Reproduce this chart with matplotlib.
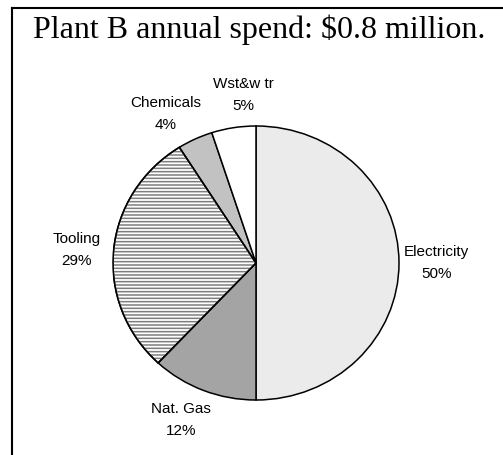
import numpy as np
import matplotlib
matplotlib.use("Agg")
import matplotlib.pyplot as plt
from matplotlib.lines import Line2D
from matplotlib.patches import Wedge

categories = ["Electricity", "Nat. Gas", "Tooling", "Chemicals", "Wst&w tr"]
shares = [50, 12, 29, 4, 5]
fills = ["#ebebeb", "#a4a4a4", "white", "#c2c2c2", "white"]
hatches = [None, None, "-----", None, None]
title = "Plant B annual spend: $0.8 million."

# small nudges so the labels sit where the original put them
label_shift = [0, -3, 1, 5, -5]
label_dist = [1.26, 1.26, 1.26, 1.26, 1.23]

plt.rcParams["hatch.linewidth"] = 1.1

W, H = 503, 455
fig = plt.figure(figsize=(W / 100, H / 100), dpi=100)

# pie is a bit wider than tall in the original
cx, cy, rx, ry = 256, 263, 143, 137
ax = fig.add_axes([(cx - rx) / W, (H - cy - ry) / H, 2 * rx / W, 2 * ry / H])

wedges, _ = ax.pie(shares, startangle=90, counterclock=False, colors=fills,
                   wedgeprops=dict(edgecolor="black", linewidth=1.1, zorder=2))
# grey stripes drawn as a separate wedge under the black outline
for w, h in zip(wedges, hatches):
    if h:
        stripes = Wedge(w.center, w.r, w.theta1, w.theta2, facecolor="none",
                        edgecolor="#7e7e7e", hatch=h, linewidth=0, zorder=2.5)
        ax.add_patch(stripes)
        outline = Wedge(w.center, w.r, w.theta1, w.theta2, facecolor="none",
                        edgecolor="black", linewidth=1.1, zorder=3)
        ax.add_patch(outline)
ax.set_aspect("auto")
ax.set_xlim(-1, 1)
ax.set_ylim(-1, 1)
ax.axis("off")

# labels at the middle angle of each slice
for w, name, s, d, r in zip(wedges, categories, shares, label_shift, label_dist):
    mid = np.deg2rad((w.theta1 + w.theta2) / 2 + d)
    ax.text(r * np.cos(mid), r * np.sin(mid), f"{name}\n{s}%",
            ha="center", va="center", fontsize=11, family="Liberation Sans",
            linespacing=1.75, clip_on=False)

fig.text(33 / W, 1 - 38 / H, title, family="Liberation Serif", fontsize=23,
         ha="left", va="baseline")

# frame (only top and left visible)
fig.add_artist(Line2D([12 / W, 1], [1 - 8 / H, 1 - 8 / H], color="black", lw=1.5))
fig.add_artist(Line2D([12 / W, 12 / W], [0, 1 - 8 / H], color="black", lw=1.5))

fig.savefig("out.png", dpi=100)
